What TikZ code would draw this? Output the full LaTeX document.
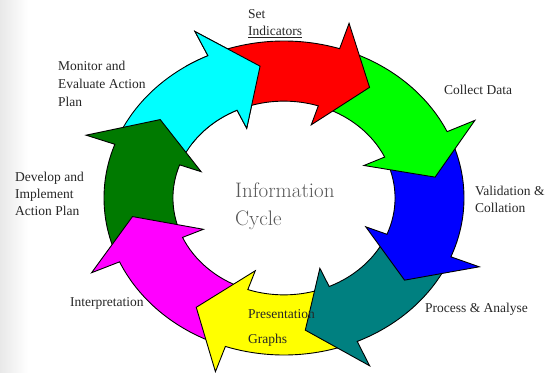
\documentclass[tikz,border=0pt]{standalone}
\usepackage{fontspec}
\newfontfamily\labelfont{Liberation Serif}
\definecolor{darkleaf}{RGB}{0,122,0}
\definecolor{tealwave}{RGB}{0,128,128}
\definecolor{skycyan}{RGB}{0,255,255}
\definecolor{hotmagenta}{RGB}{255,0,255}
\definecolor{sunyellow}{RGB}{255,255,0}
\definecolor{limegreen}{RGB}{0,255,0}
\definecolor{purered}{RGB}{255,0,0}
\definecolor{pureblue}{RGB}{0,0,255}
\tikzset{
  cyclearrow/.style={draw=black, line width=0.9pt, line join=miter},
  lbl/.style={font=\labelfont\fontsize{13.5}{17}\selectfont, anchor=west,
    align=left, text=black!85, inner sep=0pt}
}

\begin{document}
\begin{tikzpicture}[x=1pt,y=1pt]
\useasboundingbox (-284,-174) rectangle (272,198);
\shade[left color=black!9, right color=white] (-284,-174) rectangle (-256,198);

% the ring of arrows, in unit circle coordinates
\begin{scope}[xscale=180, yscale=157]
\foreach \col/\base/\tail in {skycyan/-245/-203, darkleaf/-200/-159, hotmagenta/-156/-112,
  sunyellow/-109/-69, tealwave/-66/-25, pureblue/-22/22, limegreen/25/69, purered/72/112}
\filldraw[cyclearrow, fill=\col] (\tail:0.617)
  arc[start angle=\tail, end angle=\base, radius=0.617] -- (\base:0.49)
  -- ({\base-16}:0.85) -- (\base:1.17) -- (\base:1)
  arc[start angle=\base, end angle=\tail, radius=1] -- cycle;
% cyan head lies over the red tail
\begin{scope}
\clip (-0.55,0.35) rectangle (-0.04,1.15);
\filldraw[cyclearrow, fill=skycyan] (-203:0.617)
  arc[start angle=-203, end angle=-245, radius=0.617] -- (-245:0.49)
  -- (-261:0.85) -- (-245:1.17) -- (-245:1)
  arc[start angle=-245, end angle=-203, radius=1] -- cycle;
\end{scope}
\end{scope}

\node[lbl] (setind) at (-36,174.5) {Set\\\underline{Indicators}};
\node[lbl] (collect) at (160,108) {Collect Data};
\node[lbl] (validate) at (191,-1.5) {Validation \&\\Collation};
\node[lbl] (process) at (141,-111) {Process \& Analyse};
\node[lbl, font=\labelfont\fontsize{13.5}{25}\selectfont] (present) at (-36,-129.5) {Presentation\\Graphs};
\node[lbl] (interp) at (-214,-105) {Interpretation};
\node[lbl] (develop) at (-269,4) {Develop and\\Implement\\Action Plan};
\node[lbl, font=\labelfont\fontsize{13.5}{18}\selectfont] (monitor) at (-226,114) {Monitor and\\Evaluate Action\\Plan};
\node[lbl, font=\fontsize{21}{28}\selectfont, text=black!65] (infocycle) at (-49,-8) {Information\\Cycle};
\end{tikzpicture}
\end{document}
